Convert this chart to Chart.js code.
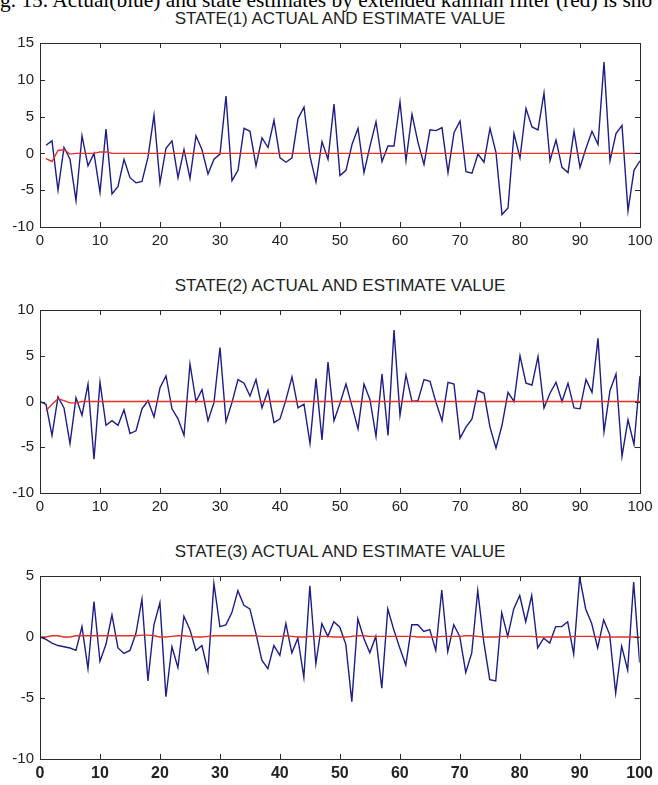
<!DOCTYPE html>
<html>
<head>
<meta charset="utf-8">
<script src="https://cdn.jsdelivr.net/npm/chart.js@4/dist/chart.umd.min.js"></script>
<style>
  body { margin: 0; background: #fff; width: 658px; height: 785px; overflow: hidden; position: relative; font-family: "Liberation Sans", Arial, sans-serif; }
  .cap { position: absolute; left: 0; top: -12px; white-space: nowrap; font: 21.4px "Liberation Serif", "Times New Roman", serif; color: #000; }
  .ttl { position: absolute; left: 40px; width: 600px; text-align: center; font-size: 17px; line-height: 17px; color: #222; white-space: nowrap; }
  canvas { position: absolute; left: 0; }
</style>
</head>
<body>
<div class="cap">g. 15. Actual(blue) and state estimates by extended kalman filter (red) is sho</div>
<div class="ttl" style="top:10px">STATE(1) ACTUAL AND ESTIMATE VALUE</div>
<div class="ttl" style="top:277px">STATE(2) ACTUAL AND ESTIMATE VALUE</div>
<div class="ttl" style="top:543px">STATE(3) ACTUAL AND ESTIMATE VALUE</div>
<canvas id="c1" width="658" height="225" style="top:28px"></canvas>
<canvas id="c2" width="658" height="224" style="top:295px"></canvas>
<canvas id="c3" width="658" height="224" style="top:561px"></canvas>
<script>
// time steps 0..100
const steps = [0,1,2,3,4,5,6,7,8,9,10,11,12,13,14,15,16,17,18,19,20,21,22,23,24,25,26,27,28,29,30,
  31,32,33,34,35,36,37,38,39,40,41,42,43,44,45,46,47,48,49,50,51,52,53,54,55,56,57,58,59,60,
  61,62,63,64,65,66,67,68,69,70,71,72,73,74,75,76,77,78,79,80,81,82,83,84,85,86,87,88,89,90,
  91,92,93,94,95,96,97,98,99,100];

// state 1 (starts at step 1)
const actual1 = [null,1.1,1.7,-5.0,0.8,-0.8,-6.4,2.4,-1.7,0.0,-5.3,3.3,-5.5,-4.5,-0.8,-3.3,-4.0,-3.8,-0.5,5.2,-4.0,
  0.7,1.7,-3.3,0.5,-3.4,2.4,0.5,-2.8,-0.8,-0.1,7.8,-3.7,-2.3,3.4,3.0,-1.7,2.1,0.8,4.5,-0.6,
  -1.2,-0.6,4.7,6.3,-0.4,-3.9,1.6,-0.8,6.7,-3.0,-2.3,1.2,3.4,-2.6,1.0,4.3,-1.1,1.0,1.0,7.0,
  -1.0,5.3,1.5,-1.5,3.2,3.1,3.5,-2.6,2.8,4.4,-2.5,-2.7,-0.1,-1.2,3.4,0.1,-8.3,-7.4,2.7,-0.6,
  6.1,3.6,3.2,8.2,-1.0,1.8,-1.9,-2.6,3.0,-1.9,0.7,3.0,1.2,12.4,-1.0,2.7,3.8,-7.8,-2.3,-1.0];
const estimate1 = [null,-0.7,-1.1,0.4,0.5,-0.1,0,0,0,0,0.2,0.2,0,0,0,0,0,0,0,0,0,
  0,0,0,0,0,0,0,0,0,0,0,0,0,0,0,0,0,0,0,0,0,0,0,0,0,0,0,0,0,0,
  0,0,0,0,0,0,0,0,0,0,0,0,0,0,0,0,0,0,0,0,0,0,0,0,0,0,0,0,0,0,
  0,0,0,0,0,0,0,0,0,0,0,0,0,0,0,0,0,0,0,0];

// state 2
const actual2 = [0,-0.3,-3.7,0.5,-0.7,-4.6,0.4,-1.5,1.9,-6.3,2.1,-2.6,-2.1,-2.6,-0.9,-3.5,-3.2,-0.8,0.1,-1.7,1.5,
  2.8,-0.8,-1.9,-3.7,4.1,0,1.3,-2.1,-0.1,5.9,-2.2,-0.1,2.4,2.0,0.6,2.4,-0.7,1.2,-2.3,-1.9,
  0.2,2.7,-0.7,-0.3,-4.6,2.5,-4.2,4.3,-2.1,-0.2,1.9,-0.5,-3.0,1.9,0.2,-3.8,3.0,-3.7,7.8,-1.5,
  2.9,0,0.1,2.4,2.2,-0.1,-2.1,2.1,1.9,-4.0,-2.8,-1.9,1.2,0.9,-2.8,-5.1,-2.6,1.0,0,5.0,
  2.0,1.8,4.9,-0.7,0.9,2.1,0,2.0,-0.7,-0.8,2.4,1.0,6.9,-3.3,1.2,3.0,-6.0,-2.0,-4.7,2.8];
const estimate2 = [null,-1.0,-0.3,0.3,0.1,-0.15,-0.15,0,0,0,0,0,0,0,0,0,0,0,0,0,0,
  0,0,0,0,0,0,0,0,0,0,0,0,0,0,0,0,0,0,0,0,0,0,0,0,0,0,0,0,0,0,
  0,0,0,0,0,0,0,0,0,0,0,0,0,0,0,0,0,0,0,0,0,0,0,0,0,0,0,0,0,0,
  0,0,0,0,0,0,0,0,0,0,0,0,0,0,0,0,0,0,0,0];

// state 3
const actual3 = [0,-0.2,-0.5,-0.7,-0.8,-0.9,-1.1,0.85,-2.6,2.9,-2.0,-0.6,1.8,-0.9,-1.35,-1.1,0.3,3.1,-3.6,1.0,2.8,
  -4.9,-0.8,-2.5,1.7,0.6,-1.1,-0.7,-2.8,4.4,0.85,1.0,2.0,3.8,2.6,2.3,0.3,-1.9,-2.6,-0.7,-1.5,
  1.1,-1.3,-0.1,-3.3,4.2,-2.2,1.1,0.05,1.25,0.8,-0.6,-5.3,1.5,-0.1,-1.3,0.05,-4.2,2.3,0.6,-0.9,
  -2.3,1.0,1.0,0.45,0.6,-1.1,3.85,-1.2,1.0,0.05,-2.9,-1.3,3.8,-0.4,-3.5,-3.6,2.0,0.05,2.3,3.4,
  1.25,3.4,-0.9,-0.1,-0.5,0.85,0.85,1.25,-1.4,4.9,2.3,1.1,-0.9,1.4,0.2,-4.6,-0.75,-2.7,4.5,-2.1];
const estimate3 = [0,0,0.1,0.1,0,0,0.1,0.1,0.1,0.1,0.1,0.1,0.1,0.1,0.1,0.1,0.1,0.15,0.15,0.1,0,
  0,0.05,0.1,0.1,0.05,0,0,0.05,0.1,0.1,0.1,0.1,0.1,0.1,0.1,0.1,0.05,0.05,0.05,0.05,
  0.1,0.05,0,0,0.05,0.05,0.05,0.05,0,0,0,0.05,0.1,0.1,0.05,0.05,0.05,0.05,0.05,0.05,
  0.05,0.05,0,0,0,0,0.05,0.05,0.05,0.05,0.1,0.1,0.05,0,0,0,0.05,0.05,0.05,0.05,
  0.05,0.05,0,0,0,0,0,0,0.05,0.05,0.05,0.05,0,0,0,0,0,0,0,0];

const yTicks1 = { min: -10, max: 15, step: 5 };
const yTicks2 = { min: -10, max: 10, step: 5 };
const yTicks3 = { min: -10, max: 5, step: 5 };

const blue = "#1d1d88";
const red = "#e3302b";
const ink = "#222";

// matlab style box with inward ticks on all four sides
const boxPlugin = {
  id: "box",
  afterDraw(chart) {
    const { ctx, chartArea: a, scales } = chart;
    ctx.save();
    ctx.strokeStyle = "#2a2a2a";
    ctx.lineWidth = 1;
    ctx.beginPath();
    scales.x.ticks.forEach(t => {
      const px = Math.round(scales.x.getPixelForValue(t.value)) + 0.5;
      ctx.moveTo(px, a.bottom); ctx.lineTo(px, a.bottom - 5);
      ctx.moveTo(px, a.top); ctx.lineTo(px, a.top + 5);
    });
    scales.y.ticks.forEach(t => {
      const py = Math.round(scales.y.getPixelForValue(t.value)) + 0.5;
      ctx.moveTo(a.left, py); ctx.lineTo(a.left + 5, py);
      ctx.moveTo(a.right, py); ctx.lineTo(a.right - 5, py);
    });
    ctx.stroke();
    ctx.strokeRect(Math.round(a.left) + 0.5, Math.round(a.top) + 0.5, Math.round(a.right - a.left), Math.round(a.bottom - a.top));
    ctx.restore();
  }
};

function makeChart(id, actual, estimate, yt, xFont) {
  new Chart(document.getElementById(id), {
    type: "line",
    data: {
      labels: steps,
      datasets: [
        { data: estimate, borderColor: red, borderWidth: 1.4, pointRadius: 0, tension: 0 },
        { data: actual, borderColor: blue, borderWidth: 1.4, pointRadius: 0, tension: 0 }
      ]
    },
    options: {
      responsive: false,
      animation: false,
      layout: { padding: { top: 10, right: 18, left: 0, bottom: 0 } },
      plugins: { legend: { display: false }, tooltip: { enabled: false } },
      scales: {
        x: {
          type: "linear", min: 0, max: 100,
          grid: { display: false, drawTicks: false },
          border: { display: false },
          ticks: { stepSize: 10, autoSkip: false, maxRotation: 0, padding: 5, color: ink, font: xFont },
          afterFit(s) { s.height = 26; }
        },
        y: {
          min: yt.min, max: yt.max,
          grid: { display: false, drawTicks: false },
          border: { display: false },
          ticks: { stepSize: yt.step, padding: 6, color: ink, font: { family: "Liberation Sans", size: 15 } },
          afterFit(s) { s.width = 40; }
        }
      }
    },
    plugins: [boxPlugin]
  });
}

const plainFont = { family: "Liberation Sans", size: 15 };
const boldFont = { family: "Liberation Sans", size: 16, weight: "bold" };

makeChart("c1", actual1, estimate1, yTicks1, plainFont);
makeChart("c2", actual2, estimate2, yTicks2, plainFont);
makeChart("c3", actual3, estimate3, yTicks3, boldFont);
</script>
</body>
</html>
